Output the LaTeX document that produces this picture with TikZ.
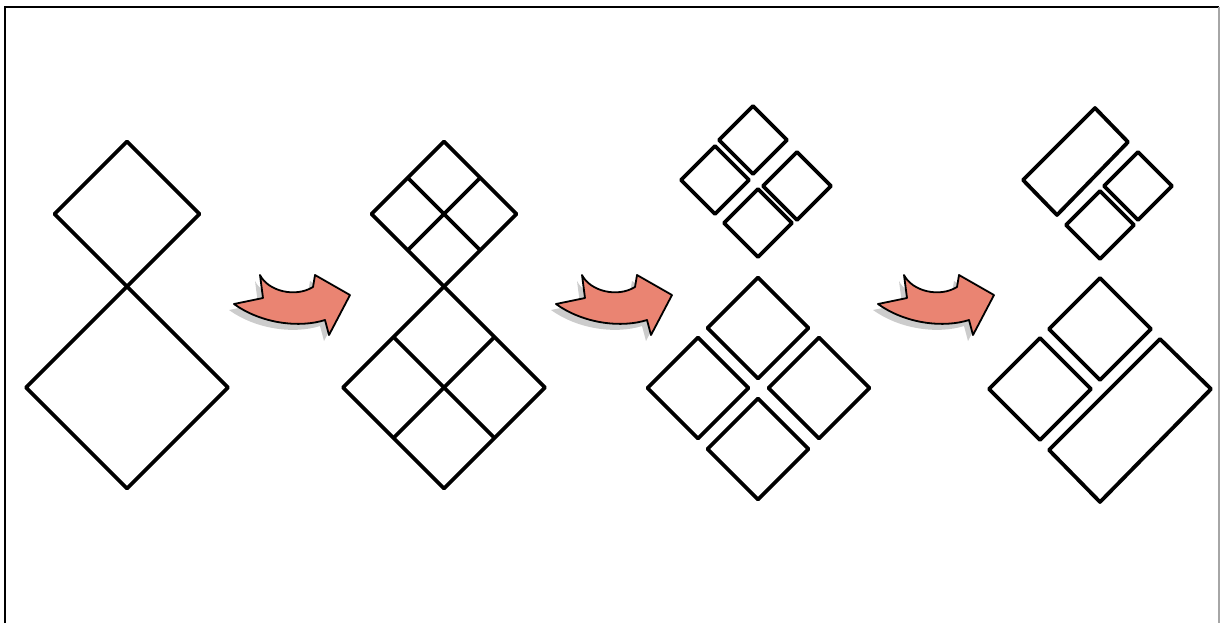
\documentclass[tikz,border=0pt]{standalone}
\usetikzlibrary{calc}
\definecolor{arrowfill}{RGB}{234,132,114}

\tikzset{
  tile/.style={draw=black, line width=1.9pt, line join=round},
  bigarrow/.style={fill=arrowfill, draw=black, line width=0.9pt, line join=round},
  arrowshadow/.style={fill=black!40, opacity=0.5},
}

% diamond tile: centre x, centre y, half diagonal
\newcommand{\sqtile}[3]{%
  \draw[tile] (#1,#2-#3) -- (#1+#3,#2) -- (#1,#2+#3) -- (#1-#3,#2) -- cycle;}
% diamond tile cut into four
\newcommand{\gridtile}[3]{%
  \sqtile{#1}{#2}{#3}
  \draw[tile] (#1-#3/2,#2-#3/2) -- (#1+#3/2,#2+#3/2);
  \draw[tile] (#1+#3/2,#2-#3/2) -- (#1-#3/2,#2+#3/2);}
% the curved arrow outline
\newcommand{\arrowpath}{(260,275) .. controls (268,291) and (295,298) .. (313,287)
  -- (315,275) -- (350,295) -- (329,335) -- (325,320)
  .. controls (300,328) and (262,324) .. (234,304) -- (263,298) -- cycle}
\newcommand{\curvyarrow}[1]{%
  \fill[arrowshadow, shift={(#1-5,6)}] \arrowpath;
  \draw[bigarrow, shift={(#1,0)}] \arrowpath;}

\begin{document}
\begin{tikzpicture}[x=0.5pt, y=-0.5pt]
  \useasboundingbox (0,0) rectangle (1221,623);

  % frame
  \draw[line width=1.3pt] (5,623) -- (5,7) -- (1219,7);
  \draw[black!35, line width=1pt] (1219,7) -- (1219,623);

  % Panel 1: two diamonds
  \sqtile{127}{214}{72.5}
  \sqtile{127}{387.5}{101}

  % Panel 2: same, each cut into four
  \gridtile{444}{214}{72.5}
  \gridtile{444}{387.5}{101}

  % Panel 3: the pieces pulled apart
  \sqtile{753}{140}{34}
  \sqtile{715}{180}{34}
  \sqtile{797}{186}{34}
  \sqtile{758}{223}{34}

  \sqtile{758}{328}{50.5}
  \sqtile{698}{388}{50.5}
  \sqtile{819}{388}{50.5}
  \sqtile{758}{449}{50.5}

  % Panel 4: pieces joined into rectangles
  \draw[tile] (1095,108) -- (1128,142) -- (1057,215) -- (1023,180) -- cycle;
  \sqtile{1138}{186}{34}
  \sqtile{1100}{225}{34}

  \sqtile{1100}{329}{51}
  \sqtile{1040}{389}{51}
  \draw[tile] (1160,339) -- (1211,389) -- (1100,502) -- (1049,450) -- cycle;

  % arrows between panels
  \curvyarrow{0}
  \curvyarrow{322}
  \curvyarrow{644}
\end{tikzpicture}
\end{document}
